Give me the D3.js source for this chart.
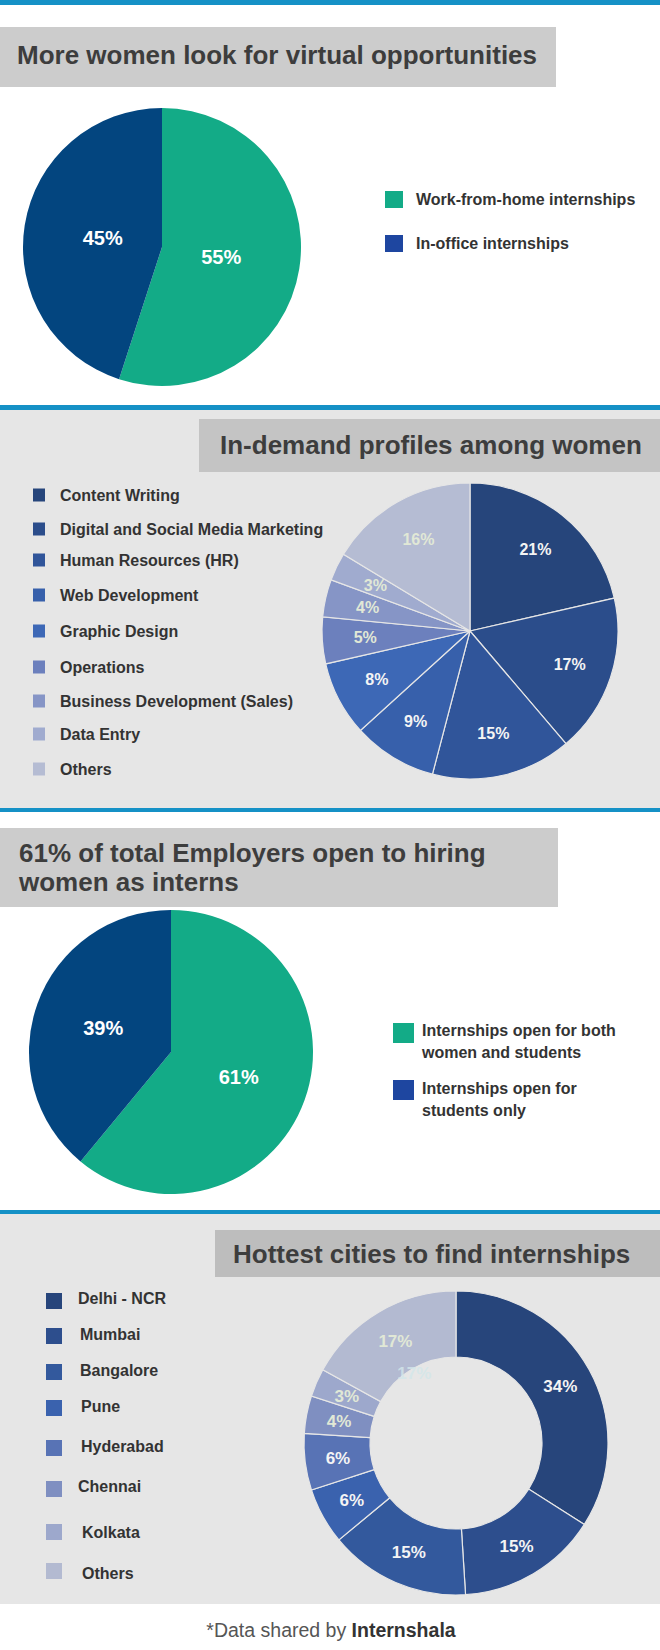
<!DOCTYPE html>
<html>
<head>
<meta charset="utf-8">
<script src="https://cdn.jsdelivr.net/npm/d3@7"></script>
<style>
  body { margin: 0; background: #fff; }
  svg text { font-family: "Liberation Sans", Arial, sans-serif; font-weight: bold; }
</style>
</head>
<body>
<script>
// ---- data ----
const workLabels = ["Work-from-home internships", "In-office internships"]
const workValues = [55, 45]

const profileLabels = ["Content Writing", "Digital and Social Media Marketing", "Human Resources (HR)",
  "Web Development", "Graphic Design", "Operations", "Business Development (Sales)", "Data Entry", "Others"]
const profileValues = [21, 17, 15, 9, 8, 5, 4, 3, 16]

const employerLabels = [["Internships open for both", "women and students"], ["Internships open for", "students only"]]
const employerValues = [61, 39]

const cityLabels = ["Delhi - NCR", "Mumbai", "Bangalore", "Pune", "Hyderabad", "Chennai", "Kolkata", "Others"]
const cityValues = [34, 15, 15, 6, 6, 4, 3, 17]

// ---- colours ----
const green = "#13ab87", navy = "#03457f", legendBlue = "#1e46a0"
const profileColors = ["#26457b", "#2b4d8b", "#30559a", "#3760ab", "#3d68b6", "#6c80bd", "#8695c6", "#a0abcf", "#b5bcd3"]
const cityColors = ["#27457b", "#2d4e8d", "#33599d", "#3a62ae", "#5873b5", "#7f8fc1", "#9da8cc", "#b3bad1"]
const paleText = "#e1e8d6"

const svg = d3.select("body").append("svg").attr("width", 660).attr("height", 1650)

// backgrounds + blue separators
svg.append("rect").attr("width", 660).attr("height", 1650).attr("fill", "#fff")
svg.append("rect").attr("y", 410).attr("width", 660).attr("height", 398).attr("fill", "#e6e6e6")
svg.append("rect").attr("y", 1214).attr("width", 660).attr("height", 390).attr("fill", "#e6e6e6")
;[[0, 5], [405, 5], [808, 4], [1210, 4]].forEach(function (b) {
  svg.append("rect").attr("y", b[0]).attr("width", 660).attr("height", b[1]).attr("fill", "#1591c6")
})

// title boxes
function titleBox(x, y, w, h, fill, lines, tx, ty, size) {
  svg.append("rect").attr("x", x).attr("y", y).attr("width", w).attr("height", h).attr("fill", fill)
  lines.forEach(function (t, i) {
    svg.append("text").attr("x", tx).attr("y", ty + i * 29).attr("fill", "#3d3d3d")
      .attr("font-size", size).text(t)
  })
}
titleBox(0, 27, 556, 60, "#cccccc", ["More women look for virtual opportunities"], 17, 64, 26)
titleBox(199, 419, 461, 53, "#c4c4c4", ["In-demand profiles among women"], 220, 454, 26)
titleBox(0, 828, 558, 79, "#cccccc", ["61% of total Employers open to hiring", "women as interns"], 19, 862, 26)
titleBox(215, 1230, 445, 47, "#bdbdbd", ["Hottest cities to find internships"], 233, 1263, 26)

// generic pie / donut
function drawPie(values, colors, cx, cy, r, inner, labelR, labelFill, fontSize, stroke) {
  const pie = d3.pie().sort(null)
  const arcs = pie(values)
  const arc = d3.arc().innerRadius(inner).outerRadius(r)
  const labelArc = d3.arc().innerRadius(labelR).outerRadius(labelR)
  const g = svg.append("g").attr("transform", "translate(" + cx + "," + cy + ")")
  g.selectAll("path").data(arcs).enter().append("path")
    .attr("d", arc)
    .attr("fill", function (d, i) { return colors[i] })
    .attr("stroke", stroke || "none")
    .attr("stroke-width", 1.2)
  g.selectAll("text").data(arcs).enter().append("text")
    .attr("transform", function (d) { return "translate(" + labelArc.centroid(d) + ")" })
    .attr("text-anchor", "middle")
    .attr("dy", "0.36em")
    .attr("font-size", fontSize)
    .attr("fill", function (d, i) { return labelFill(i) })
    .text(function (d) { return d.data + "%" })
  return g
}

// 1. virtual opportunities
drawPie(workValues, [green, navy], 162, 247, 139, 0, 60, function () { return "#fff" }, 20)
const leg1 = svg.append("g")
leg1.selectAll("rect").data(workLabels).enter().append("rect")
  .attr("x", 385).attr("y", function (d, i) { return 191 + i * 44 })
  .attr("width", 18).attr("height", 17)
  .attr("fill", function (d, i) { return [green, legendBlue][i] })
leg1.selectAll("text").data(workLabels).enter().append("text")
  .attr("x", 416).attr("y", function (d, i) { return 205 + i * 44 })
  .attr("font-size", 16).attr("fill", "#333")
  .text(function (d) { return d })

// 2. in-demand profiles
drawPie(profileValues, profileColors, 470, 631, 148, 0, 105,
  function (i) { return i < 5 ? "#f4f4f4" : paleText }, 16, "#e6e6e6")
const profileY = [495, 529, 560, 595, 631, 667, 701, 734, 769]
const leg2 = svg.append("g")
leg2.selectAll("rect").data(profileLabels).enter().append("rect")
  .attr("x", 33).attr("y", function (d, i) { return profileY[i] - 6.5 })
  .attr("width", 12).attr("height", 13)
  .attr("fill", function (d, i) { return profileColors[i] })
leg2.selectAll("text").data(profileLabels).enter().append("text")
  .attr("x", 60).attr("y", function (d, i) { return profileY[i] + 6 })
  .attr("font-size", 16).attr("fill", "#333")
  .text(function (d) { return d })

// 3. employers
drawPie(employerValues, [green, navy], 171, 1052, 142, 0, 72, function () { return "#fff" }, 20)
const leg3 = svg.append("g")
leg3.selectAll("rect").data(employerLabels).enter().append("rect")
  .attr("x", 393).attr("y", function (d, i) { return 1023 + i * 57 })
  .attr("width", 21).attr("height", 20)
  .attr("fill", function (d, i) { return [green, legendBlue][i] })
employerLabels.forEach(function (lines, i) {
  lines.forEach(function (t, j) {
    leg3.append("text").attr("x", 422).attr("y", 1036 + i * 58 + j * 21.5)
      .attr("font-size", 16).attr("fill", "#333").text(t)
  })
})

// 4. cities donut
const donut = drawPie(cityValues, cityColors, 456, 1443, 152, 86, 119,
  function (i) { return i < 5 ? "#f4f4f4" : paleText }, 17, "#e6e6e6")
// faint ghost label left over in the source graphic
const ghost = d3.arc().innerRadius(82).outerRadius(82)
donut.append("text")
  .attr("transform", "translate(" + ghost.centroid(d3.pie().sort(null)(cityValues)[7]) + ")")
  .attr("text-anchor", "middle").attr("dy", "0.36em")
  .attr("font-size", 17).attr("fill", "#d3e6ea").attr("opacity", 0.8)
  .text(cityValues[7] + "%")

const cityY = [1301, 1336, 1372, 1408, 1448, 1489, 1532, 1571]
const cityTextY = [1298, 1334, 1370, 1406, 1446, 1486, 1532, 1573]
const cityTextX = [78, 80, 80, 81, 81, 78, 82, 82]
const leg4 = svg.append("g")
leg4.selectAll("rect").data(cityLabels).enter().append("rect")
  .attr("x", 46).attr("y", function (d, i) { return cityY[i] - 8 })
  .attr("width", 16).attr("height", 16)
  .attr("fill", function (d, i) { return cityColors[i] })
leg4.selectAll("text").data(cityLabels).enter().append("text")
  .attr("x", function (d, i) { return cityTextX[i] })
  .attr("y", function (d, i) { return cityTextY[i] + 6 })
  .attr("font-size", 16).attr("fill", "#333")
  .text(function (d) { return d })

// footer
const foot = svg.append("text").attr("x", 331).attr("y", 1637).attr("text-anchor", "middle")
  .attr("font-size", 19.5).attr("fill", "#555")
foot.append("tspan").attr("font-weight", "normal").text("*Data shared by ")
foot.append("tspan").attr("fill", "#333").text("Internshala")
</script>
</body>
</html>
